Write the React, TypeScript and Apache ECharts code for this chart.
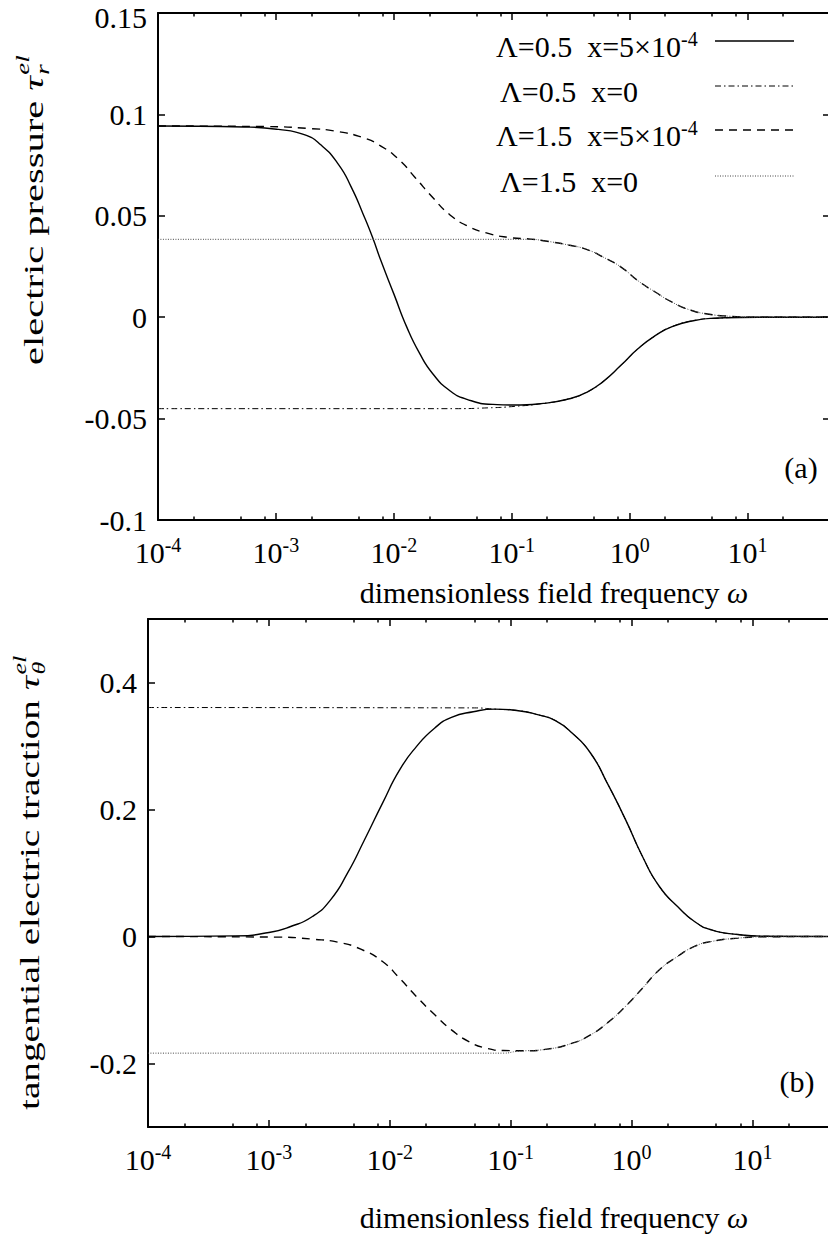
import React, { useEffect, useRef } from "react";
import * as echarts from "echarts";

// ---------- axis definitions ----------
const omegaMin = 1e-4;
const omegaMax = 50;
const xMajorExponents = [-4, -3, -2, -1, 0, 1];
const xMinorOmegas = [2e-4, 5e-4, 8e-4, 2e-3, 5e-3, 8e-3, 2e-2, 5e-2, 8e-2, 2e-1, 5e-1, 8e-1, 2, 5, 8, 20];
const yTicksA = [-0.1, -0.05, 0, 0.05, 0.1, 0.15];
const yTicksB = [-0.2, 0, 0.2, 0.4];

const seriesNames = ["Λ=0.5  x=5×10^-4", "Λ=0.5  x=0", "Λ=1.5  x=5×10^-4", "Λ=1.5  x=0"];

// ---------- panel (a): electric pressure, x = log10(omega) ----------
const a1LogW = [-4, -3.27, -2.98, -2.76, -2.62, -2.47, -2.36, -2.26, -2.18, -2.11, -2.0, -1.89, -1.78, -1.67, -1.53, -1.38, -1.16, -0.98, -0.73, -0.51, -0.36, -0.22, -0.07, 0.07, 0.22, 0.36, 0.55, 0.73, 1.09, 1.7];
const a1Tau = [0.0943, 0.0938, 0.0926, 0.09, 0.085, 0.0754, 0.064, 0.0508, 0.0393, 0.0279, 0.0115, -0.0049, -0.018, -0.0279, -0.036, -0.0405, -0.043, -0.0433, -0.0425, -0.0402, -0.0369, -0.0315, -0.0235, -0.0156, -0.009, -0.0046, -0.0016, -0.0005, 0, 0];

const a2LogW = [-4, -1.5, -1.2, -0.98, -0.73, -0.51, -0.36, -0.22, -0.07, 0.07, 0.22, 0.36, 0.55, 0.73, 1.09, 1.7];
const a2Tau = [-0.0451, -0.0451, -0.0447, -0.044, -0.0425, -0.0402, -0.0369, -0.0315, -0.0235, -0.0156, -0.009, -0.0046, -0.0016, -0.0005, 0, 0];

const a3LogW = [-4, -3.09, -2.73, -2.47, -2.26, -2.11, -1.96, -1.82, -1.67, -1.53, -1.38, -1.2, -1.02, -0.84, -0.73, -0.51, -0.36, -0.22, -0.07, 0.07, 0.22, 0.36, 0.51, 0.66, 0.84, 1.09, 1.7];
const a3Tau = [0.0943, 0.094, 0.0931, 0.0915, 0.0885, 0.0844, 0.0779, 0.0689, 0.059, 0.0508, 0.0451, 0.0413, 0.0393, 0.0385, 0.0377, 0.0355, 0.0333, 0.0295, 0.0246, 0.018, 0.0123, 0.0074, 0.0036, 0.0016, 0.0005, 0, 0];

const a4LogW = [-4, -0.84, -0.73, -0.51, -0.36, -0.22, -0.07, 0.07, 0.22, 0.36, 0.51, 0.66, 0.84, 1.09, 1.7];
const a4Tau = [0.0384, 0.0384, 0.0377, 0.0355, 0.0333, 0.0295, 0.0246, 0.018, 0.0123, 0.0074, 0.0036, 0.0016, 0.0005, 0, 0];

// ---------- panel (b): tangential electric traction ----------
const b1LogW = [-4, -3.28, -3.0, -2.82, -2.64, -2.49, -2.35, -2.21, -2.06, -1.92, -1.78, -1.63, -1.49, -1.31, -1.13, -0.95, -0.77, -0.63, -0.49, -0.34, -0.2, -0.05, 0.09, 0.23, 0.38, 0.52, 0.66, 0.88, 1.09, 1.7];
const b1Tau = [0, 0.001, 0.0063, 0.0157, 0.0315, 0.0577, 0.0997, 0.152, 0.21, 0.262, 0.299, 0.328, 0.345, 0.354, 0.358, 0.356, 0.349, 0.34, 0.32, 0.289, 0.241, 0.184, 0.126, 0.0787, 0.0472, 0.0236, 0.0105, 0.0031, 0.0005, 0];

const b2LogW = [-4, -1.3, -1.13, -0.95, -0.77, -0.63, -0.49, -0.34, -0.2, -0.05, 0.09, 0.23, 0.38, 0.52, 0.66, 0.88, 1.09, 1.7];
const b2Tau = [0.3606, 0.36, 0.358, 0.356, 0.349, 0.34, 0.32, 0.289, 0.241, 0.184, 0.126, 0.0787, 0.0472, 0.0236, 0.0105, 0.0031, 0.0005, 0];

const b3LogW = [-4, -2.92, -2.64, -2.42, -2.24, -2.06, -1.92, -1.78, -1.63, -1.49, -1.35, -1.2, -1.06, -0.88, -0.7, -0.49, -0.34, -0.2, -0.05, 0.09, 0.23, 0.38, 0.52, 0.66, 0.88, 1.09, 1.7];
const b3Tau = [0, -0.001, -0.0042, -0.0094, -0.02, -0.0394, -0.0656, -0.0945, -0.123, -0.147, -0.165, -0.176, -0.1795, -0.18, -0.1774, -0.168, -0.155, -0.136, -0.11, -0.0814, -0.0525, -0.0315, -0.0157, -0.0079, -0.0026, -0.0005, 0];

const b4LogW = [-4, -1.06, -0.95, -0.7, -0.49, -0.34, -0.2, -0.05, 0.09, 0.23, 0.38, 0.52, 0.66, 0.88, 1.09, 1.7];
const b4Tau = [-0.1837, -0.1837, -0.181, -0.1774, -0.168, -0.155, -0.136, -0.11, -0.0814, -0.0525, -0.0315, -0.0157, -0.0079, -0.0026, -0.0005, 0];

// ---------- styling ----------
const FONT = "Liberation Serif, Times New Roman, serif";
const FS = 30;
const SUP = 20;

const lineStyles: any[] = [
  { color: "#000", width: 1.4, type: "solid" },
  { color: "#000", width: 1, type: [6, 3, 1.5, 3] },
  { color: "#000", width: 1.4, type: [8, 6] },
  { color: "#444", width: 1, type: [1, 1.5] },
];

const richBase = {
  b: { fontFamily: FONT, fontSize: FS, lineHeight: 30, color: "#000" },
  s: { fontFamily: FONT, fontSize: SUP, lineHeight: 16, color: "#000", padding: [0, 0, 14, 0] },
  i: { fontFamily: FONT, fontSize: FS, lineHeight: 30, color: "#000", fontStyle: "italic" },
};

const richY = {
  n: { fontFamily: FONT, fontSize: FS, lineHeight: 20, color: "#000" },
  top: { fontFamily: FONT, fontSize: FS, lineHeight: 20, color: "#000", padding: [8, 0, 0, 0] },
};

function measure(text: string, font: string): number {
  const c = document.createElement("canvas").getContext("2d");
  if (!c) return text.length * 12;
  c.font = font;
  return c.measureText(text).width;
}

const lx = (v: number) => Math.log10(v);

function xAxes(gridIndex: number) {
  const min = lx(omegaMin);
  const max = lx(omegaMax);
  const common = { type: "value", gridIndex, min, max, splitLine: { show: false } };
  const majorTick = { show: true, inside: true, length: 7, lineStyle: { color: "#000", width: 1.5 }, customValues: xMajorExponents };
  const minorTick = { show: true, inside: true, length: 3.5, lineStyle: { color: "#000", width: 1.5 }, customValues: xMinorOmegas.map(lx) };
  const line = { show: true, onZero: false, lineStyle: { color: "#000", width: 2 } };
  return [
    {
      ...common,
      position: "bottom",
      axisLine: line,
      axisTick: majorTick,
      axisLabel: {
        show: true,
        customValues: xMajorExponents,
        margin: 17,
        formatter: (v: number) => `{b|10}{s|${Math.round(v)}}`,
        rich: richBase,
      },
    },
    { ...common, position: "bottom", axisLine: { show: false, onZero: false }, axisTick: minorTick, axisLabel: { show: false } },
    { ...common, position: "top", axisLine: line, axisTick: majorTick, axisLabel: { show: false } },
    { ...common, position: "top", axisLine: { show: false, onZero: false }, axisTick: minorTick, axisLabel: { show: false } },
  ];
}

function yAxes(gridIndex: number, min: number, max: number, ticks: number[]) {
  const common = { type: "value", gridIndex, min, max, splitLine: { show: false } };
  const tick = { show: true, inside: true, length: 7, lineStyle: { color: "#000", width: 1.5 }, customValues: ticks };
  const line = { show: true, onZero: false, lineStyle: { color: "#000", width: 2 } };
  return [
    {
      ...common,
      position: "left",
      axisLine: line,
      axisTick: tick,
      axisLabel: {
        show: true,
        customValues: ticks,
        margin: 11,
        formatter: (v: number) => {
          const t = String(Math.round(v * 1000) / 1000);
          return Math.abs(v - max) < 1e-9 ? `{top|${t}}` : `{n|${t}}`;
        },
        rich: richY,
      },
    },
    { ...common, position: "right", axisLine: line, axisTick: tick, axisLabel: { show: false } },
  ];
}

function mkSeries(name: string, xs: number[], ys: number[], xi: number, yi: number, style: any) {
  return {
    type: "line",
    name,
    xAxisIndex: xi,
    yAxisIndex: yi,
    data: xs.map((x, i) => [x, ys[i]]),
    showSymbol: false,
    symbol: "none",
    smooth: 0.55,
    lineStyle: style,
    silent: true,
  };
}

function yTitle(x: number, y: number, main: string, sub: string, sup: string, fs: number, stretch: number, squeeze: number) {
  const w = measure(main, `${fs}px Liberation Serif`) + measure("τ", `italic ${fs}px Liberation Serif`);
  const sfs = Math.round(fs * 0.68);
  return {
    type: "group",
    x,
    y,
    rotation: Math.PI / 2,
    scaleX: stretch,
    scaleY: squeeze,
    children: [
      {
        type: "text",
        x: 0,
        y: 0,
        style: {
          text: `${main}{t|τ}`,
          rich: { t: { fontFamily: FONT, fontSize: fs, fontStyle: "italic", color: "#000" } },
          fontFamily: FONT,
          fontSize: fs,
          fill: "#000",
          align: "left",
          verticalAlign: "middle",
        },
      },
      {
        type: "text",
        x: w + 1,
        y: -11,
        style: { text: sup, fontFamily: FONT, fontSize: sfs, fontStyle: "italic", fill: "#000", align: "left", verticalAlign: "middle" },
      },
      {
        type: "text",
        x: w + 1,
        y: 10,
        style: { text: sub, fontFamily: FONT, fontSize: sfs, fontStyle: "italic", fill: "#000", align: "left", verticalAlign: "middle" },
      },
    ],
  };
}

function legendItems() {
  const rows = [
    { main: "Λ=0.5  x=5×10", sup: "-4", x: 496, y: 41 },
    { main: "Λ=0.5  x=0", sup: "", x: 500, y: 86 },
    { main: "Λ=1.5  x=5×10", sup: "-4", x: 496, y: 130 },
    { main: "Λ=1.5  x=0", sup: "", x: 500, y: 176 },
  ];
  const out: any[] = [];
  rows.forEach((r, k) => {
    out.push({
      type: "text",
      x: r.x,
      y: r.y + 5,
      style: {
        text: r.sup ? `{b|${r.main}}{s|${r.sup}}` : `{b|${r.main}}`,
        rich: richBase,
        fill: "#000",
        align: "left",
        verticalAlign: "middle",
      },
    });
    const ls = lineStyles[k];
    out.push({
      type: "line",
      shape: { x1: 715, y1: r.y, x2: 794, y2: r.y },
      style: { stroke: ls.color, lineWidth: ls.width, lineDash: Array.isArray(ls.type) ? ls.type : null },
    });
  });
  return out;
}

export default function App() {
  const ref = useRef<HTMLDivElement>(null);
  useEffect(() => {
    if (!ref.current) return;
    const chart = echarts.init(ref.current, null, { renderer: "svg" });
    const option: any = {
      animation: false,
      backgroundColor: "#fff",
      grid: [
        { left: 158, top: 13, width: 672, height: 507, outerBoundsMode: "none" },
        { left: 148, top: 619, width: 689, height: 508, outerBoundsMode: "none" },
      ],
      xAxis: [...xAxes(0), ...xAxes(1)],
      yAxis: [...yAxes(0, -0.1, 0.15, yTicksA), ...yAxes(1, -0.3, 0.5, yTicksB)],
      series: [
        mkSeries(seriesNames[0], a1LogW, a1Tau, 0, 0, lineStyles[0]),
        mkSeries(seriesNames[1], a2LogW, a2Tau, 0, 0, lineStyles[1]),
        mkSeries(seriesNames[2], a3LogW, a3Tau, 0, 0, lineStyles[2]),
        mkSeries(seriesNames[3], a4LogW, a4Tau, 0, 0, lineStyles[3]),
        mkSeries(seriesNames[0], b1LogW, b1Tau, 4, 2, lineStyles[0]),
        mkSeries(seriesNames[1], b2LogW, b2Tau, 4, 2, lineStyles[1]),
        mkSeries(seriesNames[2], b3LogW, b3Tau, 4, 2, lineStyles[2]),
        mkSeries(seriesNames[3], b4LogW, b4Tau, 4, 2, lineStyles[3]),
      ],
      graphic: [
        ...legendItems(),
        {
          type: "text",
          x: 554,
          y: 592,
          style: { text: "dimensionless field frequency {i|ω}", rich: richBase, fontFamily: FONT, fontSize: FS, fill: "#000", align: "center", verticalAlign: "middle" },
        },
        {
          type: "text",
          x: 554,
          y: 1217,
          style: { text: "dimensionless field frequency {i|ω}", rich: richBase, fontFamily: FONT, fontSize: FS, fill: "#000", align: "center", verticalAlign: "middle" },
        },
        { type: "text", x: 801, y: 467, style: { text: "(a)", fontFamily: FONT, fontSize: FS, fill: "#000", align: "center", verticalAlign: "middle" } },
        { type: "text", x: 797, y: 1081, style: { text: "(b)", fontFamily: FONT, fontSize: FS, fill: "#000", align: "center", verticalAlign: "middle" } },
        yTitle(33, 365, "electric pressure ", "r", "el", 30, 1.35, 0.92),
        yTitle(30, 1110, "tangential electric traction ", "θ", "el", 30, 1.31, 0.92),
      ],
    };
    chart.setOption(option);
    return () => chart.dispose();
  }, []);
  return <div ref={ref} style={{ position: "absolute", left: 0, top: 0, width: 828, height: 1235, background: "#fff" }} />;
}
